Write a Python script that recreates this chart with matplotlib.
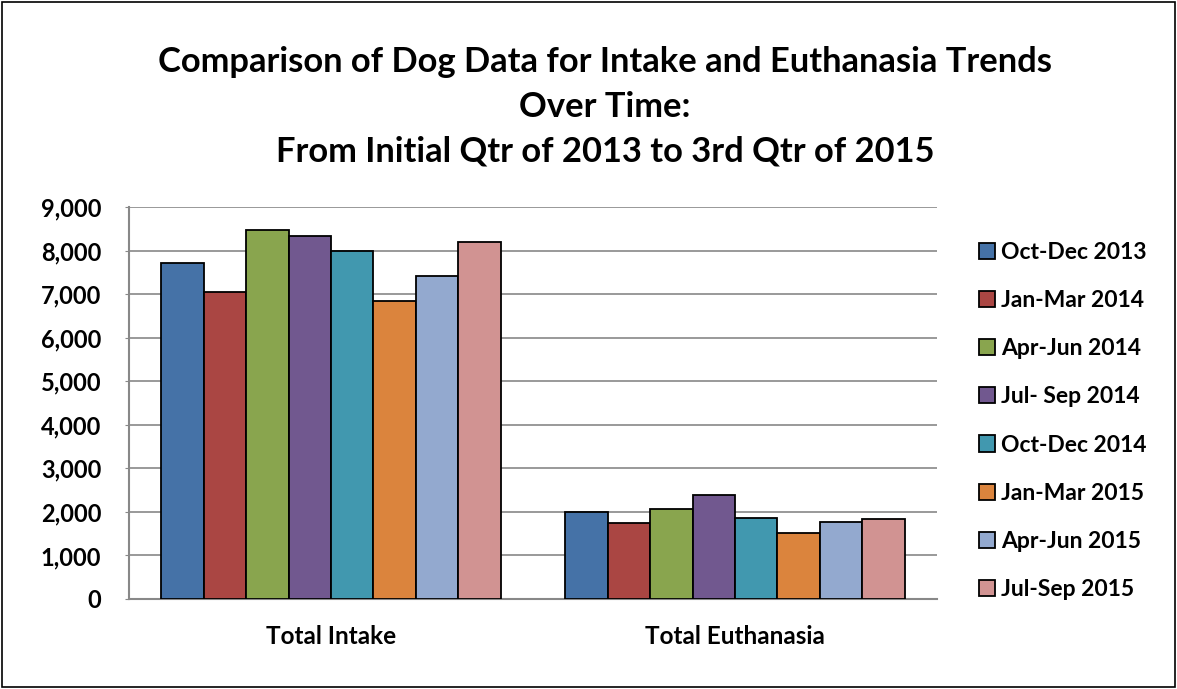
import matplotlib.pyplot as plt
import numpy as np
from matplotlib.patches import Rectangle

plt.rcParams['font.family'] = ['Lato', 'DejaVu Sans']

categories = ["Total Intake", "Total Euthanasia"]
quarters = ["Oct-Dec 2013", "Jan-Mar 2014", "Apr-Jun 2014", "Jul- Sep 2014",
            "Oct-Dec 2014", "Jan-Mar 2015", "Apr-Jun 2015", "Jul-Sep 2015"]
intake = [7725, 7046, 8466, 8328, 7985, 6832, 7420, 8191]
euthanasia = [1990, 1735, 2077, 2385, 1870, 1515, 1762, 1831]
colores = ["#4572A7", "#AA4643", "#89A54E", "#71588F",
           "#4198AF", "#DB843D", "#93A9CF", "#D19392"]

W, H = 1177, 689
fig = plt.figure(figsize=(W / 100, H / 100), dpi=100)
# area de trazado en pixeles: x 129-937, y 207-599
ax = fig.add_axes([129 / W, 1 - 599 / H, (937 - 129) / W, (599 - 207) / H])

x = np.arange(len(categories))
ancho = 0.105
n = len(quarters)
for i in range(n):
    vals = [intake[i], euthanasia[i]]
    ax.bar(x + (i - (n - 1) / 2) * ancho, vals, ancho, color=colores[i],
           edgecolor="black", linewidth=1.3, label=quarters[i], zorder=3)

ax.set_xlim(-0.5, 1.5)
ax.set_ylim(0, 9000)
ax.set_yticks(np.arange(0, 9001, 1000))
ax.set_yticklabels([f"{v:,}" for v in range(0, 9001, 1000)],
                   fontsize=17, fontweight="bold")
ax.set_xticks(x)
ax.set_xticklabels(categories, fontsize=17.5, fontweight="bold")
ax.tick_params(axis="x", length=0, pad=19)
ax.tick_params(axis="y", length=3, color="#888888", pad=17)
ax.grid(axis="y", color="#888888", linewidth=1.2, zorder=0)
for s in ["top", "right"]:
    ax.spines[s].set_visible(False)
for s in ["left", "bottom"]:
    ax.spines[s].set_color("#888888")
    ax.spines[s].set_linewidth(1.5)

fig.text(605 / W, 1 - 46 / H,
         "Comparison of Dog Data for Intake and Euthanasia Trends\nOver Time:\n"
         "From Initial Qtr of 2013 to 3rd Qtr of 2015",
         ha="center", va="top", fontsize=24.8, fontweight="bold", linespacing=1.5)

fig.legend(loc="center left", bbox_to_anchor=(979 / W, 1 - 421 / H), frameon=False,
           prop={"weight": "bold", "size": 16.5}, labelspacing=1.18,
           borderpad=0, borderaxespad=0,
           handlelength=0.7, handleheight=0.7, handletextpad=0.25)

fig.patches.append(Rectangle((0.002, 0.003), 0.996, 0.994, transform=fig.transFigure,
                             fill=False, edgecolor="black", linewidth=1.2))

fig.savefig("out.png", dpi=100)
